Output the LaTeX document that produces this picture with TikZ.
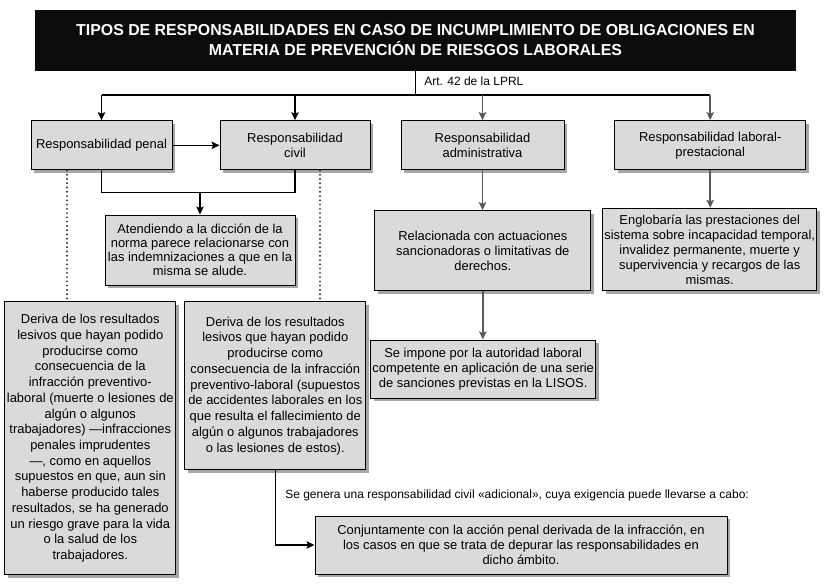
\documentclass[tikz,border=0pt]{standalone}
\usepackage{fontspec}
\setmainfont{Liberation Sans}
\usepackage{xcolor}
\usetikzlibrary{arrows.meta, shadows}
\definecolor{boxgray}{HTML}{DADADA}
\definecolor{titleblack}{HTML}{0C0C0C}

\begin{document}
\begin{tikzpicture}[
    x=0.75pt, y=-0.75pt,
    box/.style 2 args={draw, line width=0.75pt, fill=boxgray, align=center, inner sep=1pt,
                minimum width=#1, minimum height=#2, font=\fontsize{9.7}{11.3}\selectfont,
                drop shadow={shadow xshift=2.2pt, shadow yshift=-2.2pt, fill=black!35, opacity=1}},
    titlebox/.style={fill=titleblack, text=white, align=center, minimum width=570.75pt,
                minimum height=45.5pt, font=\fontsize{11.9}{15}\selectfont\bfseries},
    note/.style={inner sep=0pt, font=\fontsize{9}{11}\selectfont},
    line/.style={line width=0.8pt, draw=black},
    arrow/.style={-{Stealth[length=6pt, width=5.6pt, inset=1.2pt]}, line width=0.8pt, draw=black},
    grayarrow/.style={-{Stealth[length=6pt, width=5.6pt, inset=1.2pt]}, line width=1.1pt, draw=black!65},
    dotline/.style={line width=1.6pt, draw=black!80, dash pattern=on 0pt off 3.2pt, line cap=round},
]
\useasboundingbox (0,0) rectangle (826,587);

\node[titlebox] (title) at (415.5,40.3) {TIPOS DE RESPONSABILIDADES EN CASO DE INCUMPLIMIENTO DE OBLIGACIONES EN\\MATERIA DE PREVENCIÓN DE RIESGOS LABORALES};
\node[note, anchor=west] (art) at (424,81) {Art. 42 de la LPRL};

\node[box={105.75pt}{37pt}] (penal) at (101.5,145.3) {Responsabilidad penal};
\node[box={112.5pt}{37pt}] (civil) at (295,145.3) {Responsabilidad\\civil};
\node[box={122.25pt}{37pt}] (admin) at (482.5,145.3) {Responsabilidad\\administrativa};
\node[box={143.25pt}{37pt}] (labprest) at (710.2,145.3) {Responsabilidad laboral-\\prestacional};

\node[box={142.5pt}{52.5pt}, font=\fontsize{9.7}{10.5}\selectfont] (atend) at (200,250) {Atendiendo a la dicción de la\\norma parece relacionarse con\\las indemnizaciones a que en la\\misma se alude.};
\node[box={161.8pt}{60.2pt}] (relac) at (482.8,250.8) {Relacionada con actuaciones\\sancionadoras o limitativas de\\derechos.};
\node[box={160.5pt}{61.8pt}] (englob) at (709.7,249.5) {Englobaría las prestaciones del\\sistema sobre incapacidad temporal,\\invalidez permanente, muerte y\\supervivencia y recargos de las\\mismas.};
\node[box={168.75pt}{43.5pt}] (impone) at (483.2,369) {Se impone por la autoridad laboral\\competente en aplicación de una serie\\de sanciones previstas en la LISOS.};

\node[box={128pt}{205pt}, font=\fontsize{9.7}{11.8}\selectfont] (penaltxt) at (90.3,438.3) {Deriva de los resultados\\lesivos que hayan podido\\producirse como\\consecuencia de la\\infracción preventivo-\\laboral (muerte o lesiones de\\algún o algunos\\trabajadores) —infracciones\\penales imprudentes\\—, como en aquellos\\supuestos en que, aun sin\\haberse producido tales\\resultados, se ha generado\\un riesgo grave para la vida\\o la salud de los\\trabajadores.};
\node[box={135.5pt}{126.2pt}, font=\fontsize{9.7}{11.8}\selectfont] (civiltxt) at (275.3,385.8) {Deriva de los resultados\\lesivos que hayan podido\\producirse como\\consecuencia de la infracción\\preventivo-laboral (supuestos\\de accidentes laborales en los\\que resulta el fallecimiento de\\algún o algunos trabajadores\\o las lesiones de estos).};

\node[note, anchor=west] (genera) at (285,495) {Se genera una responsabilidad civil «adicional», cuya exigencia puede llevarse a cabo:};
\node[box={309pt}{43.5pt}] (conj) at (521,545) {Conjuntamente con la acción penal derivada de la infracción, en\\los casos en que se trata de depurar las responsabilidades en\\dicho ámbito.};

\coordinate (hub) at (415.5,95);
\coordinate (merge) at (200,192.7);
\coordinate (dotl) at (67,0);
\coordinate (dotr) at (320,0);

\draw[line] (title.south) -- (hub);
\draw[line] (penal.north |- hub) -- (labprest.north |- hub);
\draw[arrow] (penal.north |- hub) -- (penal.north);
\draw[arrow] (civil.north |- hub) -- (civil.north);
\draw[grayarrow] (admin.north |- hub) -- (admin.north);
\draw[grayarrow] (labprest.north |- hub) -- (labprest.north);

\draw[arrow] (penal) -- (civil);
\draw[line] (penal.south) |- (merge) -| (civil.south);
\draw[arrow] (merge) -- (atend.north);
\draw[dotline] (penal.south -| dotl) -- (penaltxt.north -| dotl);
\draw[dotline] (civil.south -| dotr) -- (civiltxt.north -| dotr);
\draw[arrow] (civiltxt.south) |- (conj.west);

\draw[grayarrow] (admin.south) -- (admin.south |- relac.north);
\draw[grayarrow] (relac.south) -- (relac.south |- impone.north);
\draw[grayarrow] (labprest.south) -- (labprest.south |- englob.north);
\end{tikzpicture}
\end{document}
